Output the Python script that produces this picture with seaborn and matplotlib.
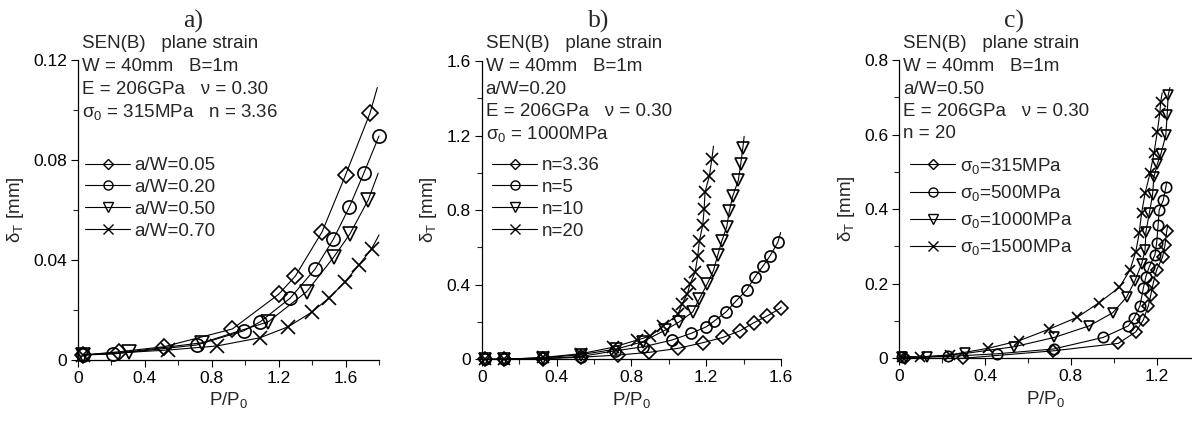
import numpy as np
import pandas as pd
import matplotlib
matplotlib.use("Agg")
import matplotlib.pyplot as plt
import seaborn as sns
from matplotlib.lines import Line2D
from matplotlib.ticker import MultipleLocator

# ---- panel a) : a/W variation ----
a_labels = ['a/W=0.05', 'a/W=0.20', 'a/W=0.50', 'a/W=0.70']
a_x = [
    [0.03, 0.247, 0.514, 0.923, 1.20, 1.30, 1.46, 1.60, 1.746],
    [0.03, 0.211, 0.71, 0.992, 1.09, 1.268, 1.417, 1.527, 1.622, 1.709, 1.80],
    [0.03, 0.307, 0.743, 1.138, 1.367, 1.531, 1.626, 1.736],
    [0.03, 0.54, 0.829, 1.088, 1.257, 1.397, 1.503, 1.597, 1.680, 1.756],
]
a_y = [
    [0.002, 0.0033, 0.0053, 0.0124, 0.0263, 0.0336, 0.0513, 0.074, 0.0987],
    [0.002, 0.0024, 0.006, 0.0117, 0.0153, 0.0247, 0.0363, 0.0483, 0.0611, 0.0747, 0.0896],
    [0.002, 0.0033, 0.0069, 0.0153, 0.0273, 0.0413, 0.0504, 0.0641],
    [0.002, 0.004, 0.0056, 0.0089, 0.0133, 0.0191, 0.0249, 0.0313, 0.038, 0.0445],
]
a_end = [(1.79, 0.109), (1.80, 0.0896), (1.795, 0.0747), (1.80, 0.050)]

# ---- panel b) : hardening exponent n ----
b_labels = ['n=3.36', 'n=5', 'n=10', 'n=20']
b_x = [
    [0.018, 0.121, 0.326, 0.531, 0.73, 0.893, 1.051, 1.182, 1.289, 1.381, 1.456, 1.527, 1.599],
    [0.02, 0.12, 0.33, 0.53, 0.71, 0.864, 1.016, 1.119, 1.20, 1.244, 1.306, 1.36, 1.417,
     1.462, 1.506, 1.542, 1.583],
    [0.02, 0.12, 0.33, 0.53, 0.72, 0.86, 0.98, 1.055, 1.128, 1.164, 1.206, 1.239, 1.262,
     1.283, 1.31, 1.324, 1.342, 1.372, 1.385, 1.396],
    [0.02, 0.12, 0.33, 0.53, 0.70, 0.83, 0.90, 0.97, 1.05, 1.07, 1.10, 1.114, 1.141,
     1.155, 1.164, 1.182, 1.189, 1.194, 1.217, 1.230],
]
b_y = [
    [0.0, 0.0, 0.003, 0.011, 0.023, 0.037, 0.059, 0.089, 0.117, 0.153, 0.197, 0.233, 0.275],
    [0.0, 0.0, 0.005, 0.015, 0.045, 0.067, 0.103, 0.139, 0.174, 0.206, 0.254, 0.313, 0.373,
     0.444, 0.503, 0.556, 0.627],
    [0.0, 0.0, 0.008, 0.025, 0.055, 0.094, 0.156, 0.20, 0.254, 0.325, 0.405, 0.476, 0.559,
     0.633, 0.711, 0.796, 0.876, 0.96, 1.049, 1.134],
    [0.0, 0.0, 0.01, 0.03, 0.064, 0.103, 0.124, 0.178, 0.242, 0.295, 0.352, 0.405, 0.467,
     0.556, 0.636, 0.722, 0.805, 0.898, 0.983, 1.072],
]
b_end = [(1.60, 0.28), (1.598, 0.68), (1.403, 1.196), (1.239, 1.143)]

# ---- panel c) : yield stress sigma_0 ----
c_labels = ['σ$_0$=315MPa', 'σ$_0$=500MPa', 'σ$_0$=1000MPa', 'σ$_0$=1500MPa']
c_x = [
    [0.027, 0.296, 0.718, 1.021, 1.103, 1.138, 1.161, 1.173, 1.184, 1.20, 1.228, 1.239, 1.247],
    [0.011, 0.226, 0.454, 0.72, 0.951, 1.068, 1.094, 1.122, 1.138, 1.15, 1.166, 1.192, 1.20,
     1.207, 1.212, 1.231, 1.243],
    [0.011, 0.128, 0.306, 0.536, 0.723, 0.886, 0.995, 1.06, 1.099, 1.13, 1.146, 1.15, 1.166,
     1.181, 1.187, 1.203, 1.22, 1.243, 1.249, 1.254],
    [0.011, 0.097, 0.236, 0.415, 0.558, 0.698, 0.83, 0.931, 1.026, 1.076, 1.103, 1.119, 1.13,
     1.146, 1.169, 1.188, 1.203, 1.215, 1.219],
]
c_y = [
    [0.0, 0.0, 0.02, 0.04, 0.071, 0.103, 0.14, 0.17, 0.201, 0.237, 0.272, 0.304, 0.341],
    [0.003, 0.005, 0.012, 0.025, 0.056, 0.087, 0.107, 0.14, 0.188, 0.219, 0.246, 0.277, 0.308,
     0.357, 0.398, 0.424, 0.459],
    [0.003, 0.003, 0.013, 0.031, 0.056, 0.087, 0.122, 0.164, 0.208, 0.253, 0.29, 0.339, 0.389,
     0.438, 0.485, 0.521, 0.548, 0.599, 0.652, 0.706],
    [0.003, 0.004, 0.009, 0.027, 0.047, 0.078, 0.11, 0.149, 0.19, 0.237, 0.286, 0.337, 0.39,
     0.442, 0.496, 0.551, 0.607, 0.658, 0.688],
]
c_end = [(1.252, 0.356), (1.247, 0.472), (1.262, 0.726), (1.226, 0.712)]

# ---- texts / ticks ----
a_info = ['SEN(B)   plane strain', 'W = 40mm   B=1m', 'E = 206GPa   ν = 0.30',
          'σ$_0$ = 315MPa   n = 3.36']
b_info = ['SEN(B)   plane strain', 'W = 40mm   B=1m', 'a/W=0.20', 'E = 206GPa   ν = 0.30',
          'σ$_0$ = 1000MPa']
c_info = ['SEN(B)   plane strain', 'W = 40mm   B=1m', 'a/W=0.50', 'E = 206GPa   ν = 0.30',
          'n = 20']
a_yticks = [0, 0.04, 0.08, 0.12]
a_yticklabels = ['0', '0.04', '0.08', '0.12']
b_yticks = [0, 0.4, 0.8, 1.2, 1.6]
b_yticklabels = ['0', '0.4', '0.8', '1.2', '1.6']
c_yticks = [0, 0.2, 0.4, 0.6, 0.8]
c_yticklabels = ['0', '0.2', '0.4', '0.6', '0.8']
ab_xticks = [0, 0.4, 0.8, 1.2, 1.6]
ab_xticklabels = ['0', '0.4', '0.8', '1.2', '1.6']
c_xticks = [0, 0.4, 0.8, 1.2]
c_xticklabels = ['0', '0.4', '0.8', '1.2']

markers = ['D', 'o', 'v', 'x']

sns.set_style('ticks')
plt.rcParams['font.family'] = ['Liberation Sans', 'DejaVu Sans']
plt.rcParams['mathtext.fontset'] = 'custom'
plt.rcParams['mathtext.rm'] = 'Liberation Sans'
plt.rcParams['mathtext.it'] = 'Liberation Sans'
plt.rcParams['mathtext.default'] = 'rm'

W, H = 1192, 421
fig = plt.figure(figsize=(W / 100, H / 100), dpi=100)

# axes boxes in pixels: left, right, top, bottom
panels = [
    dict(box=(78, 379, 60, 360), xlim=(0, 1.8), ylim=(0, 0.12), xs=a_x, ys=a_y, end=a_end,
         labels=a_labels, info=a_info, xt=ab_xticks, xtl=ab_xticklabels,
         yt=a_yticks, ytl=a_yticklabels, ymin=0.02,
         title='a)', tx=193, ms=9.5, leg=(85, 157), lsp=0.25),
    dict(box=(481.7, 781, 61, 359.3), xlim=(0, 1.6), ylim=(0, 1.6), xs=b_x, ys=b_y, end=b_end,
         labels=b_labels, info=b_info, xt=ab_xticks, xtl=ab_xticklabels,
         yt=b_yticks, ytl=b_yticklabels, ymin=0.2,
         title='b)', tx=599, ms=8, leg=(492, 157), lsp=0.25),
    dict(box=(899.3, 1192, 60, 358.3), xlim=(0, 1.365), ylim=(0, 0.8), xs=c_x, ys=c_y, end=c_end,
         labels=c_labels, info=c_info, xt=c_xticks, xtl=c_xticklabels,
         yt=c_yticks, ytl=c_yticklabels, ymin=0.1,
         title='c)', tx=1014, ms=7.5, leg=(910, 156), lsp=0.38),
]

for p in panels:
    l, r, t, b = p['box']
    ax = fig.add_axes([l / W, 1 - b / H, (r - l) / W, (b - t) / H])
    ax.set_facecolor('none')
    for i in range(4):
        lx = list(p['xs'][i]) + [p['end'][i][0]]
        ly = list(p['ys'][i]) + [p['end'][i][1]]
        df = pd.DataFrame({'x': lx, 'y': ly})
        sns.lineplot(data=df, x='x', y='y', ax=ax, color='k', lw=0.8, sort=False,
                     estimator=None, clip_on=False)
        dm = pd.DataFrame({'x': p['xs'][i], 'y': p['ys'][i]})
        ms = p['ms'] * (0.85 if markers[i] == 'D' else 1.0)
        sns.lineplot(data=dm, x='x', y='y', ax=ax, color='k', linestyle='none',
                     marker=markers[i], markersize=ms, markerfacecolor='none',
                     markeredgecolor='k', markeredgewidth=1.2, sort=False,
                     estimator=None, clip_on=False)
    ax.set_xticks(p['xt'])
    ax.set_xticklabels(p['xtl'])
    ax.set_yticks(p['yt'])
    ax.set_yticklabels(p['ytl'])
    ax.set_xlim(*p['xlim'])
    ax.set_ylim(*p['ylim'])
    ax.xaxis.set_minor_locator(MultipleLocator(0.2))
    ax.yaxis.set_minor_locator(MultipleLocator(p['ymin']))
    ax.tick_params(which='major', direction='out', length=5, width=0.8, labelsize=12.5,
                   colors='k', pad=3)
    ax.tick_params(which='minor', direction='out', length=3.5, width=0.8)
    sns.despine(ax=ax)
    for s in ['left', 'bottom']:
        ax.spines[s].set_linewidth(0.9)
        ax.spines[s].set_color('k')
    ax.set_xlabel('P/P$_0$', fontsize=13.5, labelpad=3)
    ax.set_ylabel('δ$_T$ [mm]', fontsize=13.5, labelpad=5)

    # info text block
    for j, line in enumerate(p['info']):
        fig.text((l + 4) / W, 1 - (44 + 22.5 * j) / H, line, fontsize=13.5,
                 ha='left', va='center')

    # legend
    handles = [Line2D([], [], color='k', lw=0.8, marker=m, markersize=6.5 if m != 'D' else 5,
                      markerfacecolor='none', markeredgecolor='k', markeredgewidth=1.0)
               for m in markers]
    lx, ly = p['leg']
    ax.legend(handles, p['labels'], loc='upper left',
              bbox_to_anchor=((lx - l) / (r - l), (b - ly) / (b - t)),
              frameon=False, fontsize=13.5, handlelength=2.4, handletextpad=0.25,
              labelspacing=p['lsp'], borderpad=0, borderaxespad=0)

    fig.text(p['tx'] / W, 1 - 21 / H, p['title'], fontsize=18.5,
             family='Liberation Serif', ha='center', va='center')

fig.savefig('out.png', dpi=100)
